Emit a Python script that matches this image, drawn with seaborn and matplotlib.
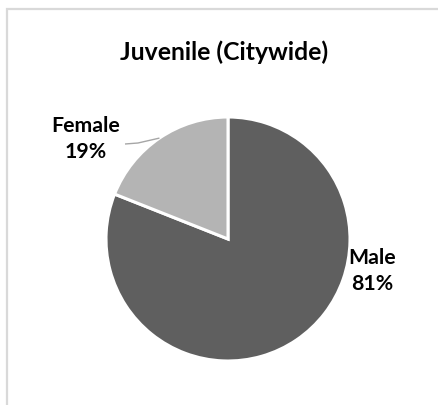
import numpy as np
import matplotlib
matplotlib.use("Agg")
import matplotlib.pyplot as plt
import seaborn as sns
from matplotlib.patches import Rectangle

# Data
categories = ["Male", "Female"]
shares = [81, 19]
slice_colors = ["#5f5f5f", "#b4b4b4"]
title = "Juvenile (Citywide)"

sns.set_theme(style="white")
plt.rcParams["font.family"] = ["Lato", "DejaVu Sans"]

W, H = 438, 406
fig = plt.figure(figsize=(W / 100, H / 100), dpi=100)
fig.patch.set_facecolor("white")

# Light frame around the chart area (top and left edges visible)
frame = Rectangle((7 / W, -0.1), 1.2, (H - 9.5) / H + 0.1, transform=fig.transFigure,
                  fill=False, edgecolor="#d9d9d9", linewidth=1.6, zorder=0)
fig.patches.append(frame)

# Axes spanning the figure; 1 data unit = 122 px, pie centred at (228, 240) px
px = 122.0
cx, cy = 228.0, H - 240.0
ax = fig.add_axes([0, 0, 1, 1])
wedges, _ = ax.pie(shares, colors=slice_colors, startangle=90, counterclock=False,
                   radius=1.0, wedgeprops=dict(edgecolor="white", linewidth=2.2))
ax.set_xlim(-cx / px, (W - cx) / px)
ax.set_ylim(-cy / px, (H - cy) / px)
ax.set_aspect("auto")
ax.axis("off")

def to_data(x_px, y_px_top):
    return (x_px - cx) / px, (H - y_px_top - cy) / px

# Title
tx, ty = to_data(224, 52)
ax.text(tx, ty, title, ha="center", va="center", fontsize=17.8, fontweight="bold", color="black")

# Slice labels
label_pos = {"Male": (372, 271), "Female": (86, 139)}
for name, val in zip(categories, shares):
    lx, ly = to_data(*label_pos[name])
    ax.text(lx, ly, f"{name}\n{val}%", ha="center", va="center", fontsize=15.3,
            fontweight="bold", color="black", linespacing=1.35)

# Leader line from the Female label to the middle of its slice edge
fw = wedges[1]
mid = np.deg2rad((fw.theta1 + fw.theta2) / 2)
ex, ey = np.cos(mid), np.sin(mid)
sx, sy = to_data(125, 145)
kx, ky = to_data(138, 144)
ax.plot([sx, kx, ex], [sy, ky, ey], color="#a6a6a6", linewidth=1.0, solid_capstyle="butt")

fig.savefig("out.png", dpi=100, facecolor="white")
